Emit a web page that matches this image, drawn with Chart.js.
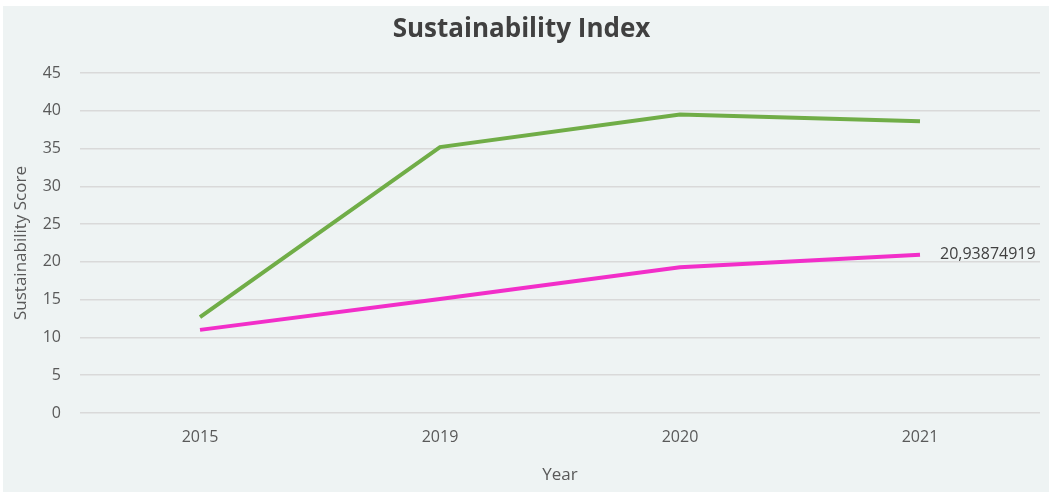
<!DOCTYPE html>
<html>
<head>
<meta charset="utf-8">
<script src="https://cdn.jsdelivr.net/npm/chart.js@4"></script>
<style>
    body { margin: 0; background: #fff; }
    #box { position: absolute; left: 3px; top: 6px; width: 1046px; height: 486px; background: #eef3f3; }
</style>
</head>
<body>
<div id="box"><canvas id="chart" width="1046" height="486"></canvas></div>
<script>
const years = ['2015', '2019', '2020', '2021'];
const greenScores = [12.7, 35.2, 39.5, 38.6];
const pinkScores = [11.0, 15.1, 19.3, 20.93874919];
const yTicks = [0, 5, 10, 15, 20, 25, 30, 35, 40, 45];

// label on the last point of the pink line, written like Excel does
const lastLabel = {
    id: 'lastLabel',
    afterDatasetsDraw(chart) {
        const meta = chart.getDatasetMeta(1);
        const pt = meta.data[meta.data.length - 1];
        const ctx = chart.ctx;
        ctx.save();
        ctx.font = '16px "Open Sans"';
        ctx.fillStyle = '#404040';
        ctx.textAlign = 'left';
        ctx.textBaseline = 'middle';
        ctx.fillText(String(pinkScores[pinkScores.length - 1]).replace('.', ','), pt.x + 20, pt.y);
        ctx.restore();
    }
};

new Chart(document.getElementById('chart').getContext('2d'), {
    type: 'line',
    data: {
        labels: years,
        datasets: [{
            data: greenScores,
            borderColor: '#70ad47',
            borderWidth: 4,
            pointRadius: 0,
            tension: 0
        }, {
            data: pinkScores,
            borderColor: '#f22ec9',
            borderWidth: 4,
            pointRadius: 0,
            tension: 0
        }]
    },
    options: {
        responsive: false,
        animation: false,
        layout: { padding: { top: 0, right: 9, left: 0, bottom: 0 } },
        plugins: {
            legend: { display: false },
            tooltip: { enabled: false },
            title: {
                display: true,
                text: 'Sustainability Index',
                color: '#404040',
                font: { family: 'Open Sans', size: 26, weight: 'bold' },
                padding: { top: 8, bottom: 27.8 }
            }
        },
        scales: {
            x: {
                offset: true,
                grid: { display: false, drawTicks: false },
                border: { display: false },
                ticks: { color: '#595959', font: { family: 'Open Sans', size: 16 }, padding: 15 },
                title: { display: true, text: 'Year', color: '#595959', font: { family: 'Open Sans', size: 17 }, padding: { top: 4, bottom: 7 } },
                afterFit(scale) { scale.height = 79; }
            },
            y: {
                min: 0,
                max: 45,
                afterBuildTicks(scale) { scale.ticks = yTicks.map(v => ({ value: v })); },
                grid: { color: '#d9d9d9', lineWidth: 1.5, drawTicks: false },
                border: { display: false },
                ticks: { color: '#595959', font: { family: 'Open Sans', size: 16 }, padding: 19 },
                title: { display: true, text: 'Sustainability Score', color: '#595959', font: { family: 'Open Sans', size: 17 }, padding: { top: 8, bottom: 0 } },
                afterFit(scale) { scale.width = 77; }
            }
        }
    },
    plugins: [lastLabel]
});
</script>
</body>
</html>
